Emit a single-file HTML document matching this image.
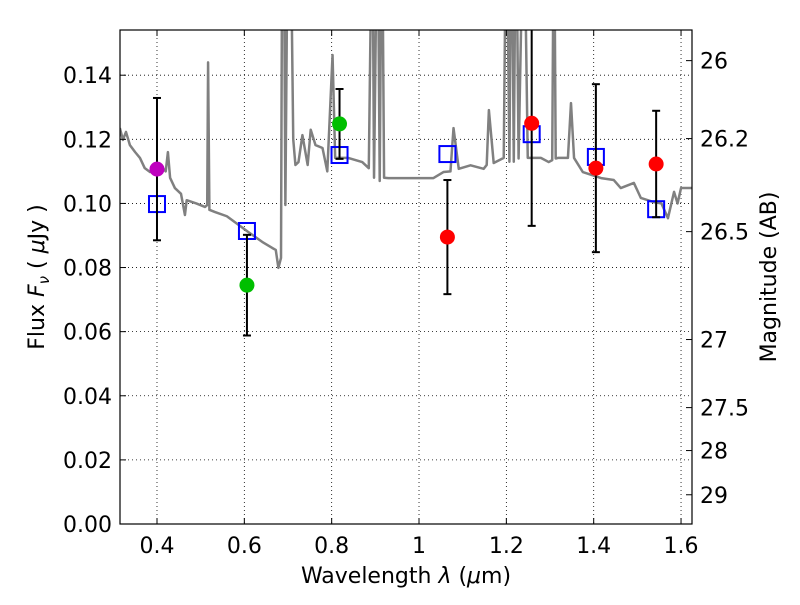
<!DOCTYPE html>
<html><head><meta charset="utf-8"><style>
body{margin:0;background:#fff}
svg text{font-family:"DejaVu Sans","Liberation Sans",sans-serif;font-size:22px;fill:#000}
</style></head><body>
<svg id="chart" width="800" height="600">
<g id="grid"></g>
<g id="plot"></g>
<g id="axes"></g>
<text x="406" y="583" text-anchor="middle">Wavelength  <tspan font-style="italic">λ</tspan> (<tspan font-style="italic">μ</tspan>m)</text>
<text transform="translate(44,277) rotate(-90)" text-anchor="middle">Flux  <tspan font-style="italic">F</tspan><tspan font-style="italic" font-size="15" dy="5">ν</tspan><tspan dy="-5">  ( </tspan><tspan font-style="italic">μ</tspan>Jy )</text>
<text transform="translate(776,277) rotate(-90)" text-anchor="middle">Magnitude (AB)</text>
</svg>
<script>
const specWl=[0.315,0.322,0.329,0.338,0.350,0.361,0.372,0.384,0.395,0.407,0.420,0.425,0.430,0.441,0.455,0.464,0.468,0.490,0.510,0.515,0.517,0.520,0.533,0.560,0.609,0.641,0.664,0.672,0.678,0.684,0.687,0.690,0.694,0.700,0.705,0.712,0.717,0.724,0.733,0.745,0.752,0.763,0.779,0.790,0.802,0.808,0.838,0.870,0.885,0.893,0.897,0.905,0.910,0.915,0.920,0.930,0.953,0.992,1.033,1.056,1.072,1.079,1.091,1.118,1.148,1.155,1.160,1.171,1.194,1.200,1.207,1.212,1.217,1.222,1.228,1.240,1.249,1.279,1.297,1.305,1.309,1.313,1.318,1.341,1.348,1.355,1.375,1.417,1.446,1.462,1.492,1.508,1.538,1.555,1.570,1.584,1.592,1.600,1.628];
const specFlux=[0.1235,0.1198,0.1223,0.1182,0.116,0.1142,0.111,0.1098,0.1119,0.1119,0.110,0.116,0.108,0.1048,0.1030,0.0964,0.101,0.1000,0.0989,0.0995,0.144,0.098,0.0973,0.096,0.0911,0.088,0.0861,0.0855,0.0799,0.083,0.2,0.2,0.0995,0.2,0.2,0.12,0.112,0.1129,0.1213,0.112,0.123,0.1182,0.1173,0.110,0.1463,0.1142,0.1142,0.1129,0.111,0.2,0.108,0.2,0.107,0.2,0.108,0.1079,0.1079,0.1079,0.1079,0.1098,0.110,0.1235,0.1108,0.1119,0.1108,0.112,0.1291,0.1126,0.1142,0.2,0.113,0.2,0.113,0.2,0.114,0.2,0.1142,0.1142,0.1129,0.1135,0.2,0.1140,0.1142,0.1142,0.1313,0.1142,0.1098,0.1079,0.1073,0.1048,0.1064,0.1017,0.1004,0.1,0.0954,0.1036,0.1,0.1048,0.1048];
const obsWl=[0.400,0.606,0.818,1.065,1.258,1.405,1.543];
const obsFlux=[0.1107,0.0745,0.1248,0.0895,0.125,0.111,0.1123];
const obsErr=[0.0222,0.0157,0.0109,0.0178,0.032,0.0262,0.0166];
const obsColor=["#bf00bf","#00bf00","#00bf00","#ff0000","#ff0000","#ff0000","#ff0000"];
const modelWl=[0.400,0.606,0.818,1.065,1.258,1.405,1.543];
const modelFlux=[0.0998,0.0914,0.1151,0.1154,0.1216,0.1145,0.0982];
const xTicks=[0.4,0.6,0.8,1.0,1.2,1.4,1.6];
const xTickLabels=["0.4","0.6","0.8","1","1.2","1.4","1.6"];
const yTicks=[0,0.02,0.04,0.06,0.08,0.10,0.12,0.14];
const yTickLabels=["0.00","0.02","0.04","0.06","0.08","0.10","0.12","0.14"];
const magTicks=[26,26.2,26.5,27,27.5,28,29];
const magTickLabels=["26","26.2","26.5","27","27.5","28","29"];

const L=120,R=692,T=30,B=524,XMIN=0.3153,XMAX=1.6251,YMIN=0,YMAX=0.1541;
const sx=v=>L+(v-XMIN)/(XMAX-XMIN)*(R-L);
const sy=v=>B-(v-YMIN)/(YMAX-YMIN)*(B-T);
const NS="http://www.w3.org/2000/svg";
function mk(tag,attrs,parent){const e=document.createElementNS(NS,tag);for(const k in attrs)e.setAttribute(k,attrs[k]);parent.appendChild(e);return e;}
const grid=document.getElementById('grid'),plot=document.getElementById('plot'),axes=document.getElementById('axes');
const cp=mk('clipPath',{id:'clip'},plot);
mk('rect',{x:L,y:T,width:R-L,height:B-T},cp);

xTicks.forEach((v,i)=>{
 const x=sx(v);
 const g=mk('line',{x1:x,x2:x,y1:T,y2:B,stroke:'#000','stroke-width':0.8,'stroke-dasharray':'1,3'},grid);
 
 
 mk('line',{x1:x,x2:x,y1:B,y2:B-6,stroke:'#000'},axes);
 mk('line',{x1:x,x2:x,y1:T,y2:T+6,stroke:'#000'},axes);
 const t=mk('text',{x:x,y:B+29,'text-anchor':'middle'},axes);t.textContent=xTickLabels[i];
 
 
});
yTicks.forEach((v,i)=>{
 const y=sy(v);
 const g=mk('line',{x1:L,x2:R,y1:y,y2:y,stroke:'#000','stroke-width':0.8,'stroke-dasharray':'1,3'},grid);
 
 
 mk('line',{x1:L,x2:L+6,y1:y,y2:y,stroke:'#000'},axes);
 const t=mk('text',{x:L-8,y:y+8,'text-anchor':'end'},axes);t.textContent=yTickLabels[i];
 
 
});
magTicks.forEach((m,i)=>{
 const y=sy(Math.pow(10,(23.9-m)/2.5));
 mk('line',{x1:R,x2:R-6,y1:y,y2:y,stroke:'#000'},axes);
 const t=mk('text',{x:R+8,y:y+8,'text-anchor':'start'},axes);t.textContent=magTickLabels[i];
 
 
});
const cg=mk('g',{'clip-path':'url(#clip)'},plot);
const sp=mk('polyline',{points:specWl.map((w,i)=>sx(w)+','+sy(specFlux[i])).join(' '),fill:'none',stroke:'#808080','stroke-width':2.5,'stroke-linejoin':'round'},cg);


modelWl.forEach((w,i)=>{
 const r=mk('rect',{x:sx(w)-8,y:sy(modelFlux[i])-8,width:16,height:16,fill:'none',stroke:'#0000ff','stroke-width':2},cg);
 
 
});
obsWl.forEach((w,i)=>{
 const x=sx(w),y0=sy(obsFlux[i]-obsErr[i]),y1=sy(obsFlux[i]+obsErr[i]);
 mk('line',{x1:x,x2:x,y1:y0,y2:y1,stroke:'#000','stroke-width':2},cg);
 mk('line',{x1:x-4,x2:x+4,y1:y0,y2:y0,stroke:'#000','stroke-width':2},cg);
 mk('line',{x1:x-4,x2:x+4,y1:y1,y2:y1,stroke:'#000','stroke-width':2},cg);
 const c=mk('circle',{cx:x,cy:sy(obsFlux[i]),r:7.5,fill:obsColor[i]},cg);
 
 
});
mk('rect',{x:L,y:T,width:R-L,height:B-T,fill:'none',stroke:'#000','stroke-width':1.2},axes);
</script>
</body></html>
